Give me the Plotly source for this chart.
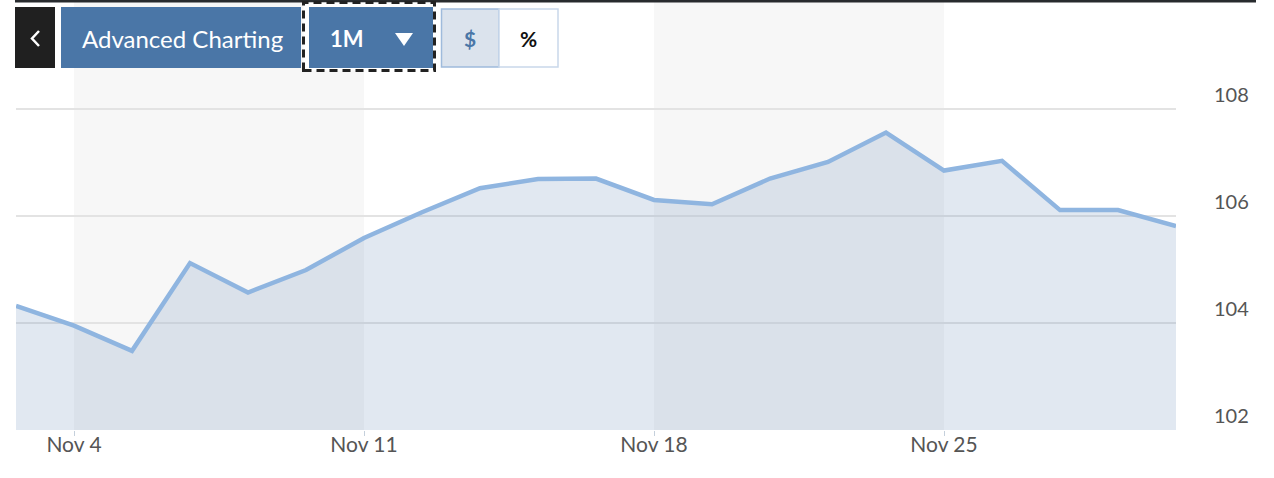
import plotly.graph_objects as go

# ---- data ----
dates = ["2024-11-01",
         "2024-11-04", "2024-11-05", "2024-11-06", "2024-11-07", "2024-11-08",
         "2024-11-11", "2024-11-12", "2024-11-13", "2024-11-14", "2024-11-15",
         "2024-11-18", "2024-11-19", "2024-11-20", "2024-11-21", "2024-11-22",
         "2024-11-25", "2024-11-26", "2024-11-27", "2024-11-28", "2024-11-29"]
prices = [104.32,
          103.95, 103.48, 105.12, 104.57, 104.99,
          105.59, 106.07, 106.52, 106.69, 106.70,
          106.30, 106.22, 106.70, 107.01, 107.56,
          106.85, 107.03, 106.11, 106.11, 105.81]
x_tickvals = ["2024-11-04", "2024-11-11", "2024-11-18", "2024-11-25"]
x_ticktext = ["Nov 4", "Nov 11", "Nov 18", "Nov 25"]
y_tickvals = [102, 104, 106, 108]
week_bands = [("2024-11-04", "2024-11-11"), ("2024-11-18", "2024-11-25")]

W, H = 1274, 478
L, R, T, B = 16, 98, 2, 48
PX0, PX1 = L, W - R
PY0, PY1 = T, H - B


def px(x):
    return (x - PX0) / (PX1 - PX0)


def py(y):
    return (PY1 - y) / (PY1 - PY0)


FONT = "Lato, 'Open Sans', sans-serif"
BLUE = "#4a76a7"

fig = go.Figure()
fig.add_trace(go.Scatter(
    x=dates, y=prices, mode="lines",
    line=dict(color="#8fb5e0", width=4.5),
    fill="tozeroy", fillcolor="rgba(120,150,190,0.22)",
    hoverinfo="skip", showlegend=False,
))

shapes = []
for a, b in week_bands:
    shapes.append(dict(type="rect", xref="x", yref="paper", x0=a, x1=b, y0=0, y1=1,
                       fillcolor="#f7f7f7", line=dict(width=0), layer="below"))

# top rule
shapes.append(dict(type="rect", xref="paper", yref="paper", x0=px(15), x1=px(1256),
                   y0=py(2.5), y1=py(0), fillcolor="#282b2e", line=dict(width=0)))
# back button
shapes.append(dict(type="rect", xref="paper", yref="paper", x0=px(15), x1=px(55),
                   y0=py(68), y1=py(7), fillcolor="#202020", line=dict(width=0)))
shapes.append(dict(type="path", xref="paper", yref="paper",
                   path=f"M {px(39)} {py(31)} L {px(32)} {py(38.5)} L {px(39)} {py(46)}",
                   line=dict(color="white", width=2.5)))
# Advanced Charting button
shapes.append(dict(type="rect", xref="paper", yref="paper", x0=px(61), x1=px(301),
                   y0=py(68), y1=py(7), fillcolor=BLUE, line=dict(width=0)))
# 1M dashed focus ring + button
shapes.append(dict(type="rect", xref="paper", yref="paper", x0=px(303.5), x1=px(434.5),
                   y0=py(70.5), y1=py(2.5), fillcolor="white",
                   line=dict(color="#222222", width=3, dash="8px,5px")))
shapes.append(dict(type="rect", xref="paper", yref="paper", x0=px(309), x1=px(433),
                   y0=py(68), y1=py(7), fillcolor=BLUE, line=dict(width=0)))
shapes.append(dict(type="path", xref="paper", yref="paper",
                   path=f"M {px(395)} {py(33)} L {px(413)} {py(33)} L {px(404)} {py(46)} Z",
                   fillcolor="white", line=dict(width=0)))
# $ / % toggle
shapes.append(dict(type="rect", xref="paper", yref="paper", x0=px(441.5), x1=px(499),
                   y0=py(67), y1=py(9), fillcolor="#dbe3ed",
                   line=dict(color="#9fbbdc", width=1.5)))
shapes.append(dict(type="rect", xref="paper", yref="paper", x0=px(499), x1=px(558),
                   y0=py(67), y1=py(9), fillcolor="white",
                   line=dict(color="#c9d8ea", width=1.5)))


def label(text, x, y, size, color, weight="normal"):
    return dict(text=text, x=px(x), y=py(y), xref="paper", yref="paper",
                xanchor="center", yanchor="middle", showarrow=False,
                font=dict(family=FONT, size=size, color=color, weight=weight))


annotations = [
    label("Advanced Charting", 182, 38, 24, "white"),
    label("1M", 347, 38, 22, "white", "bold"),
    label("$", 470, 38, 21, BLUE, "bold"),
    label("%", 528, 38, 21, "#111111", "bold"),
]

fig.update_layout(
    width=W, height=H,
    margin=dict(l=L, r=R, t=T, b=B, pad=0),
    paper_bgcolor="white", plot_bgcolor="white",
    showlegend=False,
    shapes=shapes, annotations=annotations,
    xaxis=dict(
        type="date", range=["2024-11-01", "2024-11-29"],
        rangebreaks=[dict(bounds=["sat", "mon"])],
        tickvals=x_tickvals, ticktext=x_ticktext,
        showgrid=False, zeroline=False, showline=False,
        ticks="outside", ticklen=5, tickcolor="#c5d0dc", tickwidth=1,
        ticklabelstandoff=-9,
        tickfont=dict(family=FONT, size=21, color="#555555"),
        fixedrange=True,
    ),
    yaxis=dict(
        range=[102, 110], side="right",
        tickvals=y_tickvals,
        showgrid=True, gridcolor="#e3e3e3", gridwidth=1.5,
        zeroline=False, showline=False, ticks="",
        ticklabelposition="outside top", ticklabelstandoff=37,
        tickfont=dict(family=FONT, size=20, color="#555555"),
        fixedrange=True,
    ),
)

fig.write_html(
    "out.html",
    config={"displayModeBar": False},
    post_script="document.body.style.margin='0';document.body.style.padding='0';",
)
